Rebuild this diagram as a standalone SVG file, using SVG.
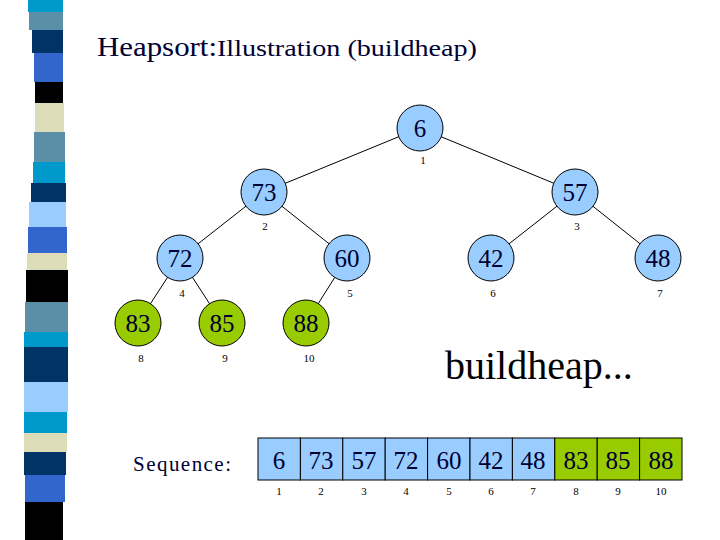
<svg xmlns="http://www.w3.org/2000/svg" width="720" height="540" viewBox="0 0 720 540">
<style>
.n{stroke:#000;stroke-width:1}
.b{fill:#99ccff}.g{fill:#99cc00}
.v{font-family:"Liberation Serif",serif;font-size:25px;text-anchor:middle;fill:#000033}
.i{font-family:"Liberation Serif",serif;font-size:11px;text-anchor:middle}
.e{stroke:#000;stroke-width:1;fill:none}
</style>
<rect width="720" height="540" fill="#fff"/>
<g id="stripe">
<rect x="28" y="0" width="35" height="12" fill="#0099cc"/>
<rect x="29" y="12" width="34" height="18" fill="#5b8fa8"/>
<rect x="32" y="30" width="31" height="23" fill="#003366"/>
<rect x="34" y="53" width="29" height="29" fill="#3366cc"/>
<rect x="35" y="82" width="28" height="21" fill="#000"/>
<rect x="35" y="103" width="29" height="29" fill="#dcdcb8"/>
<rect x="34" y="132" width="31" height="30" fill="#5b8fa8"/>
<rect x="33" y="162" width="32" height="21" fill="#0099cc"/>
<rect x="31" y="183" width="35" height="19" fill="#003366"/>
<rect x="29" y="202" width="37" height="25" fill="#99ccff"/>
<rect x="28" y="227" width="39" height="26" fill="#3366cc"/>
<rect x="27" y="253" width="40" height="17" fill="#dcdcb8"/>
<rect x="26" y="270" width="42" height="32" fill="#000"/>
<rect x="25" y="302" width="43" height="30" fill="#5b8fa8"/>
<rect x="24" y="332" width="44" height="15" fill="#0099cc"/>
<rect x="24" y="347" width="44" height="35" fill="#003366"/>
<rect x="24" y="382" width="44" height="30" fill="#99ccff"/>
<rect x="24" y="412" width="43" height="21" fill="#0099cc"/>
<rect x="24" y="433" width="43" height="19" fill="#dcdcb8"/>
<rect x="24" y="452" width="42" height="23" fill="#003366"/>
<rect x="25" y="475" width="40" height="27" fill="#3366cc"/>
<rect x="25" y="502" width="38" height="38" fill="#000"/>
</g>
<text x="97" y="56" font-family="Liberation Serif,serif" fill="#000033"><tspan font-size="28" textLength="120" lengthAdjust="spacingAndGlyphs">Heapsort:</tspan><tspan font-size="24" textLength="260" lengthAdjust="spacingAndGlyphs">Illustration (buildheap)</tspan></text>
<g id="edges">
<line class="e" x1="420" y1="128" x2="264" y2="192"/>
<line class="e" x1="420" y1="128" x2="575" y2="192"/>
<line class="e" x1="264" y1="192" x2="180" y2="258"/>
<line class="e" x1="264" y1="192" x2="347" y2="258"/>
<line class="e" x1="575" y1="192" x2="491" y2="258"/>
<line class="e" x1="575" y1="192" x2="658" y2="258"/>
<line class="e" x1="180" y1="258" x2="138" y2="323"/>
<line class="e" x1="180" y1="258" x2="222" y2="323"/>
<line class="e" x1="347" y1="258" x2="306" y2="323"/>
</g>
<g id="n1"><circle class="n b" cx="420" cy="128" r="23"/><text class="v" x="420" y="137">6</text><text class="i" x="423" y="164">1</text></g>
<g id="n2"><circle class="n b" cx="264" cy="192" r="23"/><text class="v" x="264" y="201">73</text><text class="i" x="265" y="230">2</text></g>
<g id="n3"><circle class="n b" cx="575" cy="192" r="23"/><text class="v" x="575" y="201">57</text><text class="i" x="577" y="230">3</text></g>
<g id="n4"><circle class="n b" cx="180" cy="258" r="23"/><text class="v" x="180" y="267">72</text><text class="i" x="182" y="297">4</text></g>
<g id="n5"><circle class="n b" cx="347" cy="258" r="23"/><text class="v" x="347" y="267">60</text><text class="i" x="350" y="297">5</text></g>
<g id="n6"><circle class="n b" cx="491" cy="258" r="23"/><text class="v" x="491" y="267">42</text><text class="i" x="493" y="297">6</text></g>
<g id="n7"><circle class="n b" cx="658" cy="258" r="23"/><text class="v" x="658" y="267">48</text><text class="i" x="660" y="297">7</text></g>
<g id="n8"><circle class="n g" cx="138" cy="323" r="23"/><text class="v" x="138" y="332">83</text><text class="i" x="141" y="362">8</text></g>
<g id="n9"><circle class="n g" cx="222" cy="323" r="23"/><text class="v" x="222" y="332">85</text><text class="i" x="225" y="362">9</text></g>
<g id="n10"><circle class="n g" cx="306" cy="323" r="23"/><text class="v" x="306" y="332">88</text><text class="i" x="309" y="362">10</text></g>
<text x="445" y="379" font-family="Liberation Serif,serif" font-size="40">buildheap...</text>
<text x="133" y="471" font-family="Liberation Serif,serif" font-size="21" fill="#000033" textLength="98">Sequence:</text>
<g id="array">
<rect class="n b" x="258" y="438" width="42.4" height="42"/>
<rect class="n b" x="300.4" y="438" width="42.4" height="42"/>
<rect class="n b" x="342.8" y="438" width="42.4" height="42"/>
<rect class="n b" x="385.2" y="438" width="42.4" height="42"/>
<rect class="n b" x="427.6" y="438" width="42.4" height="42"/>
<rect class="n b" x="470" y="438" width="42.4" height="42"/>
<rect class="n b" x="512.4" y="438" width="42.4" height="42"/>
<rect class="n g" x="554.8" y="438" width="42.4" height="42"/>
<rect class="n g" x="597.2" y="438" width="42.4" height="42"/>
<rect class="n g" x="639.6" y="438" width="42.4" height="42"/>
<text class="v" x="279" y="469">6</text><text class="v" x="321" y="469">73</text><text class="v" x="364" y="469">57</text><text class="v" x="406" y="469">72</text><text class="v" x="449" y="469">60</text><text class="v" x="491" y="469">42</text><text class="v" x="533" y="469">48</text><text class="v" x="576" y="469">83</text><text class="v" x="618" y="469">85</text><text class="v" x="661" y="469">88</text>
<text class="i" x="279" y="495">1</text><text class="i" x="321" y="495">2</text><text class="i" x="364" y="495">3</text><text class="i" x="406" y="495">4</text><text class="i" x="449" y="495">5</text><text class="i" x="491" y="495">6</text><text class="i" x="533" y="495">7</text><text class="i" x="576" y="495">8</text><text class="i" x="618" y="495">9</text><text class="i" x="661" y="495">10</text>
</g>
</svg>
